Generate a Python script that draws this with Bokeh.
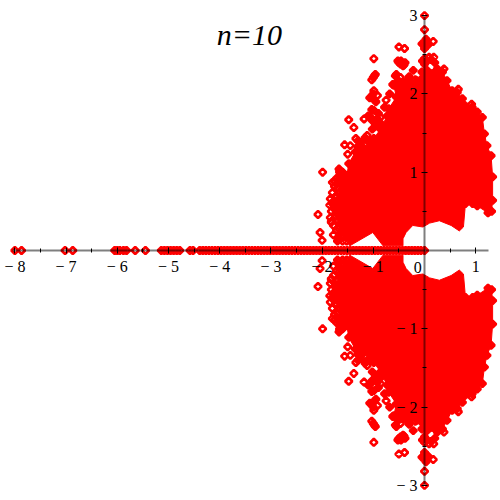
from bokeh.plotting import figure
from bokeh.models import LinearAxis, FixedTicker, Range1d
from bokeh.core.properties import value
from bokeh.embed import file_html
from bokeh.resources import INLINE
import numpy as np

# Outline of the dense cloud of roots (upper half; the set is mirror-symmetric)
cloud_re = [-0.81,-0.42,-0.42,-0.36,-0.23,-0.03,0.10,0.29,0.52,0.68,0.76,0.80,0.94,1.03,1.24,1.31,1.33,1.33,1.30,1.22,1.17,1.13,1.03,0.93,0.74,0.64,0.54,0.44,0.35,0.25,0.05,-0.05,-0.14,-0.34,-0.57,-0.60,-0.55,-0.70,-0.73,-0.86,-0.99,-1.22,-1.35,-1.48,-1.52,-1.62,-1.72,-1.70,-1.60,-1.46,-1.01]
cloud_im = [0.06,0.06,0.15,0.23,0.32,0.30,0.35,0.38,0.32,0.25,0.30,0.60,0.60,0.57,0.48,0.50,0.64,0.94,1.21,1.34,1.49,1.70,1.77,1.83,1.94,2.02,2.04,2.17,2.28,2.32,2.30,2.28,2.17,2.17,2.23,2.11,1.96,1.81,1.72,1.55,1.43,1.30,1.26,1.11,0.94,0.90,0.60,0.35,0.20,0.06,0.23]

# Individually visible roots, upper half
root_re = [0,0,0,0.05,0.17,0,0.09,0.18,0.38,0.66,0.92,-0.18,-0.47,-0.50,-0.39,-0.50,-0.40,-0.46,-0.99,-0.98,-1.03,-1.07,-0.99,-0.92,-0.75,-1.48,-1.38,-1.18,-0.99,-1.05,-0.86,-0.96,-1.34,-1.56,-1.45,-1.50,-1.25,-1.12,-1.67,-1.99,-1.80,-2.08,-2.04,-2.00,-1.82,-1.66,
           -1.72,-1.76,-1.80,-1.84,-1.80,-1.75,-1.70,-1.66,-1.60,-1.82,-1.77,-1.72,-1.67,-1.62,-1.84,-1.78,-1.72,-1.66,-1.60,-1.55,-1.78,-1.72,-1.65,-1.58,-1.70,-1.63,-1.56,-1.52,-1.74,-1.70,-1.62,-1.55,
           -1.85,-1.79,-1.73,-1.68,-1.64,-1.58,-1.76,-1.69,-1.61,-1.54,-1.50,-1.82,-1.74,-1.68,-1.59,-1.52,-1.47,-1.63,-1.57,-1.50,-1.45,-1.69,-1.60,-1.53]
root_im = [3.00,2.82,2.64,2.66,2.67,2.45,2.47,2.47,2.32,2.06,1.87,2.18,2.21,2.60,2.58,2.40,2.37,2.42,2.45,2.23,2.18,1.95,2.04,1.98,1.92,1.67,1.57,1.68,1.79,1.70,1.70,1.62,1.43,1.35,1.34,1.23,1.38,1.47,1.04,1.00,0.87,0.46,0.23,0.13,0.37,0.14,
           0.92,0.82,0.74,0.66,0.60,0.88,0.80,1.00,0.95,0.50,0.54,0.70,0.62,0.78,0.42,0.32,0.44,0.50,0.68,0.80,0.20,0.26,0.30,0.38,0.12,0.18,0.24,0.12,0.68,0.58,0.86,0.92,
           0.58,0.62,0.48,0.90,0.70,0.74,0.58,0.38,0.56,0.62,0.84,0.36,0.44,0.28,0.46,0.48,0.96,0.22,0.30,0.38,0.88,0.14,0.12,0.28]

# Tight groups of roots that merge into solid blobs, upper half
blob_re = [-0.96,-1.00,-0.52,-0.47,-0.42,-0.38,-1.10,-1.02,-0.93,-0.90,-1.03,-0.85,-1.30,-1.22,-1.16,-1.08,-1.65,-1.60,-0.05,0.06,0.03,0.00,0.05,0.13,-0.04,0.00,0.20,-1.02,-0.95,-1.00,-0.30,-0.22,-0.55,-0.62,-0.68,-0.78,-0.92,-1.02,-1.16,-1.30]
blob_im = [2.25,2.21,2.42,2.38,2.36,2.40,1.72,1.66,1.60,1.75,1.80,1.62,1.40,1.33,1.42,1.38,1.02,1.00,2.64,2.62,2.70,2.58,2.42,2.44,2.42,2.38,2.40,1.95,1.90,2.00,2.22,2.30,2.25,2.12,2.00,1.83,1.68,1.55,1.44,1.33]

# Real roots on the negative axis
real_roots = [-8.00,-7.87,-7.02,-6.87,-6.05,-6.00,-5.95,-5.88,-5.82,-5.65,-5.45,-5.14,-5.08,-5.02,-4.96,-4.90,-4.84,-4.78,-4.58,-4.52,-4.39,-4.33,-4.27,-4.21,-4.15,-4.09,-4.03,-3.97,-3.91,-3.85,-3.79,-3.73,-3.67,-3.61,-3.55,-3.49,-3.43,-3.37,-3.31,-3.25,-3.19,-3.13,-3.07,-3.01,-2.95,-2.89,-2.83,-2.77,-2.71,-2.65,-2.59,-2.53,-2.47,-2.41,-2.35,-2.29,-2.23,-2.17,-2.11,-2.05,-1.99,-1.93,-1.87,-1.81,-1.75,-1.69,-1.63,-1.57,-1.51,-1.45,-1.39,-1.33,-1.27,-1.21,-1.15,-1.09,-1.03,-0.97,-0.91,-0.85,-0.79,-0.73,-0.67,-0.61,-0.55,-0.49,-0.43,-0.37,-0.31,-0.25,-0.19,-0.13,-0.07,0.00]

x_ticks = [-8,-7,-6,-5,-4,-3,-2,-1,1]
x_minor = [-7.5,-6.5,-5.5,-4.5,-3.5,-2.5,-1.5,-0.5,0.5]
y_ticks = [-3,-2,-1,1,2,3]
y_minor = [-2.5,-1.5,-0.5,0.5,1.5,2.5]
title_text = "n=10"
zero_label = "0"

p = figure(width=500, height=500, output_backend="svg", toolbar_location=None,
           x_axis_type=None, y_axis_type=None, min_border=0,
           x_range=Range1d(-8.281, 1.484), y_range=Range1d(-3.193, 3.193))
p.outline_line_color = None
p.grid.visible = False

RED = "#ff0000"
p.patch(cloud_re, cloud_im, fill_color=RED, line_color=RED, line_width=1)
p.patch(cloud_re, list(-np.array(cloud_im)), fill_color=RED, line_color=RED, line_width=1)

def diamonds(xs, ys, fill_alpha):
    p.scatter(xs, ys, marker="square", angle=0.7854, size=5, fill_color=RED,
              fill_alpha=fill_alpha, line_color=RED, line_width=2.6)

edge_re = cloud_re[11:-5]
edge_im = cloud_im[11:-5]
solid_re = edge_re + blob_re
solid_im = edge_im + blob_im
diamonds(solid_re + solid_re, solid_im + list(-np.array(solid_im)), 1)
diamonds(root_re + root_re + real_roots,
         root_im + list(-np.array(root_im)) + [0.0] * len(real_roots), 0)

def style(ax, ticks, minor, over, standoff, bounds):
    ax.ticker = FixedTicker(ticks=ticks, minor_ticks=minor)
    ax.bounds = bounds
    ax.major_label_overrides = over
    ax.major_label_text_font = "Liberation Serif"
    ax.major_label_text_font_size = "16px"
    ax.major_label_text_color = "#000000"
    ax.major_label_standoff = standoff
    ax.axis_line_color = "#000000"
    ax.axis_line_alpha = 0.5
    ax.axis_line_width = 2
    ax.major_tick_line_color = "#000000"
    ax.minor_tick_line_color = "#000000"
    ax.major_tick_in = 3
    ax.major_tick_out = 3
    ax.minor_tick_in = 2
    ax.minor_tick_out = 2

xa = LinearAxis(fixed_location=0)
style(xa, x_ticks, x_minor, {t: ("\u2212 %d" % -t if t < 0 else str(t)) for t in x_ticks}, 4, (-8.05, 1.25))
p.add_layout(xa, "below")

ya = LinearAxis(fixed_location=0)
style(ya, y_ticks, y_minor, {t: ("\u2212 %d" % -t if t < 0 else str(t)) for t in y_ticks}, 4, (-3, 3))
p.add_layout(ya, "left")

p.text([-0.13], [-0.22], text=[zero_label], text_font=value("Liberation Serif"), text_font_size="16px",
       text_align="center", text_baseline="middle", text_color="#000000")
p.text([-3.42], [2.76], text=[title_text], text_font=value("Liberation Serif"), text_font_style="italic",
       text_font_size="30px", text_align="center", text_baseline="middle", text_color="#000000")

open("out.html", "w").write(file_html(p, INLINE))
